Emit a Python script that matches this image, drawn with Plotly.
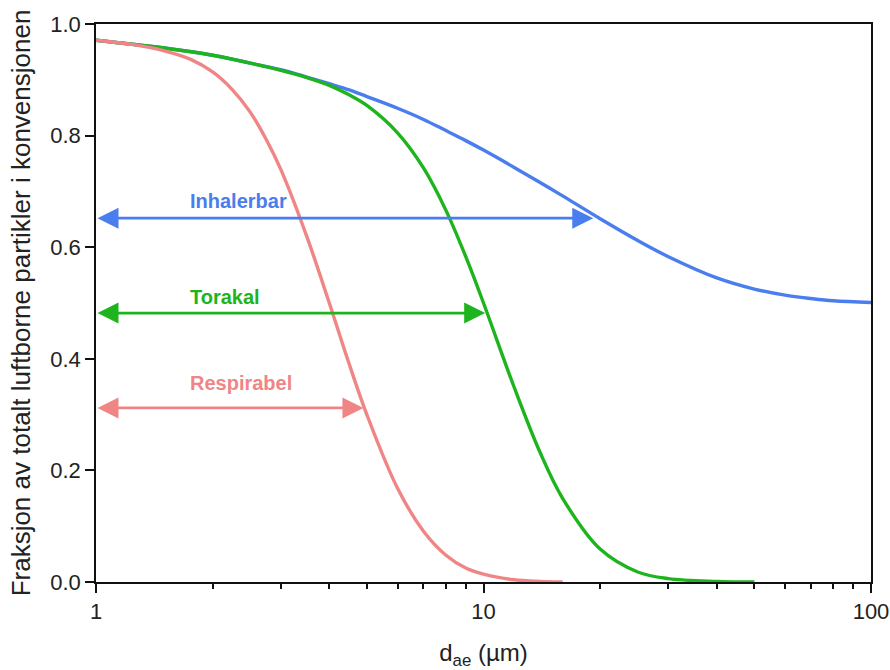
import numpy as np
import plotly.graph_objects as go

# Aerodynamic diameter (µm)
d_inh = [1, 1.5, 2, 2.5, 3, 3.5, 4, 4.5, 5, 6, 7, 8, 9, 10, 12, 14, 16, 20, 25, 30, 40, 50, 60, 70, 80, 100]
inhalerbar = [0.971, 0.957, 0.944, 0.930, 0.918, 0.905, 0.893, 0.882, 0.870, 0.849, 0.829, 0.809, 0.791,
              0.774, 0.743, 0.716, 0.692, 0.651, 0.612, 0.583, 0.545, 0.525, 0.514, 0.508, 0.504, 0.501]

d_tor = [1, 1.5, 2, 2.5, 3, 3.5, 4, 4.5, 5, 6, 7, 8, 9, 10, 12, 14, 16, 20, 25, 30, 40, 50]
torakal = [0.971, 0.957, 0.944, 0.930, 0.917, 0.904, 0.890, 0.873, 0.854, 0.805, 0.742, 0.666, 0.583,
           0.500, 0.349, 0.232, 0.150, 0.059, 0.018, 0.006, 0.001, 0.0]

d_resp = [1, 1.25, 1.5, 1.75, 2, 2.25, 2.5, 2.75, 3, 3.5, 4, 4.5, 5, 6, 7, 8, 9, 10, 12, 14, 16]
respirabel = [0.971, 0.963, 0.952, 0.937, 0.914, 0.882, 0.842, 0.793, 0.739, 0.619, 0.500, 0.391, 0.300,
              0.168, 0.091, 0.048, 0.025, 0.014, 0.004, 0.001, 0.0]

# Arrows: label, fraction level, diameter at the curve
arrow_labels = ["Inhalerbar", "Torakal", "Respirabel"]
arrow_levels = [0.652, 0.482, 0.312]
arrow_ends = [19.2, 10.1, 4.9]
label_levels = [0.683, 0.511, 0.357]
label_d = [2.33, 2.15, 2.37]

colors = ["#4a7ded", "#1db41d", "#f08585"]
FONT = "Arial, Liberation Sans, sans-serif"

fig = go.Figure()
for xs, ys, c, name in [(d_inh, inhalerbar, colors[0], "Inhalerbar"),
                        (d_tor, torakal, colors[1], "Torakal"),
                        (d_resp, respirabel, colors[2], "Respirabel")]:
    fig.add_trace(go.Scatter(x=xs, y=ys, mode="lines", name=name,
                             line=dict(color=c, width=3.4, shape="spline", smoothing=1.0),
                             showlegend=False, hoverinfo="skip", cliponaxis=False))

for lab, lev, end, ly, lx, c in zip(arrow_labels, arrow_levels, arrow_ends, label_levels, label_d, colors):
    fig.add_annotation(x=np.log10(end), y=lev, ax=np.log10(1.0), ay=lev,
                       xref="x", yref="y", axref="x", ayref="y",
                       text="", showarrow=True, arrowhead=2, startarrowhead=2,
                       arrowside="end+start", arrowsize=1.5, startarrowsize=1.5,
                       arrowwidth=2.8, arrowcolor=c, standoff=0, startstandoff=0)
    fig.add_annotation(x=np.log10(lx), y=ly, xref="x", yref="y", text=f"<b>{lab}</b>",
                       showarrow=False, font=dict(family=FONT, size=20, color=c))

fig.update_xaxes(type="log", range=[0, 2], showline=True, linecolor="#111", linewidth=1.5, mirror=True,
                 ticks="outside", ticklen=9, tickwidth=1.5, tickcolor="#111",
                 tickvals=[1, 10, 100], ticktext=["1", "10", "100"],
                 minor=dict(ticks="outside", ticklen=5, tickwidth=1.5, tickcolor="#111",
                            tickvals=[2, 3, 4, 5, 6, 7, 8, 9, 20, 30, 40, 50, 60, 70, 80, 90], showgrid=False),
                 showgrid=False, zeroline=False, automargin=False,
                 tickfont=dict(family=FONT, size=22, color="#222"),
                 title=dict(text="d<sub>ae</sub> (µm)", standoff=22,
                            font=dict(family=FONT, size=24, color="#222")))
fig.update_yaxes(range=[0, 1], showline=True, linecolor="#111", linewidth=1.5, mirror=True,
                 ticks="outside", ticklen=9, tickwidth=1.5, tickcolor="#111",
                 tickvals=[0, 0.2, 0.4, 0.6, 0.8, 1.0], tickformat=".1f",
                 showgrid=False, zeroline=False, automargin=False,
                 tickfont=dict(family=FONT, size=22, color="#222"),
                 title=dict(text="Fraksjon av totalt luftborne partikler i konvensjonen", standoff=12,
                            font=dict(family=FONT, size=26, color="#222")))

fig.update_layout(width=890, height=670, plot_bgcolor="white", paper_bgcolor="white",
                  margin=dict(l=96, r=19, t=24, b=88))

# remove the page's default body margin so the figure fills the 890x670 window exactly
fig.write_html("out.html", config={"displayModeBar": False},
               post_script="document.body.style.margin='0';document.body.style.overflow='hidden';")
